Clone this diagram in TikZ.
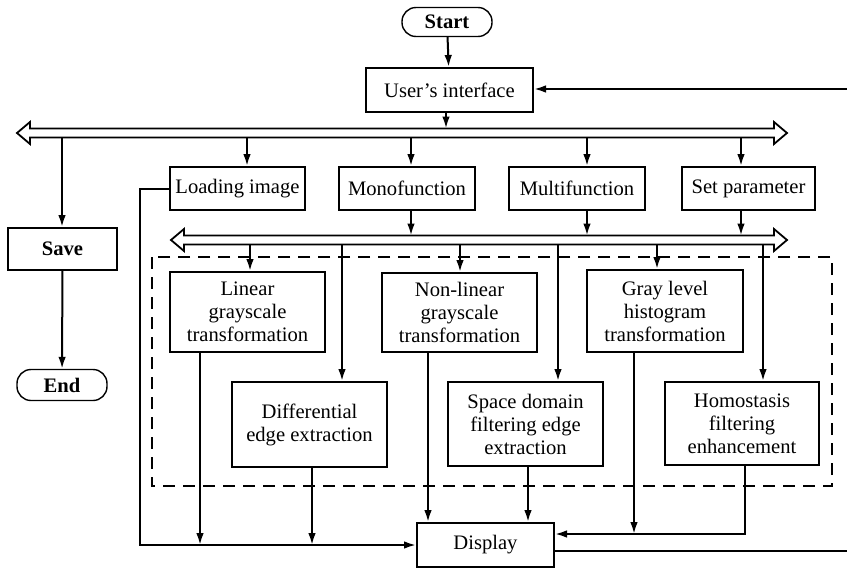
\documentclass[tikz,border=0pt]{standalone}
\usepackage{fontspec}
\setmainfont{Liberation Serif}
\usetikzlibrary{arrows.meta,calc}
\begin{document}
\begin{tikzpicture}[x=0.5pt,y=-0.5pt,
  box/.style={draw,line width=1pt,rectangle,inner sep=0pt,align=center,font=\fontsize{10.3}{11.5}\selectfont},
  term/.style={draw,line width=0.7pt,rounded corners=7pt,inner sep=0pt,font=\bfseries\fontsize{10.3}{11.5}\selectfont},
  arr/.style={line width=1pt,-{Latex[length=6pt,width=3.8pt]}},
  ln/.style={line width=1pt},
  bus/.style={line width=0.9pt,line join=miter},
  dashbox/.style={line width=1pt,dash pattern=on 6pt off 4pt}]
\useasboundingbox (0,0) rectangle (847,568);

% nodes
\node[term,minimum width=45pt,minimum height=14.5pt] (start) at (447,22) {Start};
\node[box,minimum width=83.5pt,minimum height=22pt] (ui) at (449.5,90) {User’s interface};
\node[box,font=\bfseries\fontsize{10.3}{11.5}\selectfont,minimum width=54.5pt,minimum height=21pt] (save) at (62.5,249) {Save};
\node[term,minimum width=45pt,minimum height=15.5pt] (end) at (62,385) {End};
\node[box,minimum width=67.5pt,minimum height=21.5pt] (load) at (237.5,188.5) {Loading image};
\node[box,minimum width=68pt,minimum height=21.5pt] (mono) at (407,188.5) {Monofunction};
\node[box,minimum width=68pt,minimum height=21.5pt] (multi) at (577,188.5) {Multifunction};
\node[box,minimum width=66.5pt,minimum height=21.5pt] (setp) at (748.5,188.5) {Set parameter};
\node[box,minimum width=77.5pt,minimum height=40pt] (lin) at (247.5,312) {Linear\\grayscale\\transformation};
\node[box,minimum width=77.5pt,minimum height=39.5pt] (nonlin) at (459.5,312.5) {Non-linear\\grayscale\\transformation};
\node[box,minimum width=78pt,minimum height=41pt] (gray) at (665,311) {Gray level\\histogram\\transformation};
\node[box,minimum width=77.5pt,minimum height=42.5pt] (diff) at (309.5,424.5) {Differential\\edge extraction};
\node[box,minimum width=77.5pt,minimum height=42pt] (space) at (525.5,424) {Space domain\\filtering edge\\extraction};
\node[box,minimum width=77pt,minimum height=41.5pt] (homo) at (742,423.5) {Homostasis\\filtering\\enhancement};
\node[box,minimum width=68.5pt,minimum height=22pt] (disp) at (485.5,545) {Display};

% dashed group
\draw[dashbox] (152,257) rectangle (832,486);

% buses (hollow double-headed arrows)
\draw[bus] (17,133) -- (30,122) -- (30,128.5) -- (774,128.5) -- (774,122) -- (787,133)
  -- (774,144) -- (774,137.5) -- (30,137.5) -- (30,144) -- cycle;
\draw[bus] (171,240) -- (184,229) -- (184,235.5) -- (774,235.5) -- (774,229) -- (787,240)
  -- (774,251) -- (774,244.5) -- (184,244.5) -- (184,251) -- cycle;

% bus tap points
\coordinate (b1in) at (446,128.5);
\coordinate (t1s) at (62,137.5);
\coordinate (t1l) at (247,137.5);
\coordinate (t1m) at (411,137.5);
\coordinate (t1u) at (587,137.5);
\coordinate (t1p) at (741,137.5);
\coordinate (b2m) at (411,235.5);
\coordinate (b2u) at (587,235.5);
\coordinate (b2p) at (741,235.5);
\coordinate (t2lin) at (250,244.5);
\coordinate (t2diff) at (342,244.5);
\coordinate (t2non) at (460,244.5);
\coordinate (t2space) at (558,244.5);
\coordinate (t2gray) at (657,244.5);
\coordinate (t2homo) at (763,244.5);

% top part
\draw[arr] (start) -- (ui);
\draw[arr] (ui.south -| b1in) -- (b1in);
\draw[arr] (t1s) -- (t1s |- save.north);
\draw[arr] (save) -- (end);
\draw[arr] (t1l) -- (t1l |- load.north);
\draw[arr] (t1m) -- (t1m |- mono.north);
\draw[arr] (t1u) -- (t1u |- multi.north);
\draw[arr] (t1p) -- (t1p |- setp.north);
\draw[arr] (mono.south -| b2m) -- (b2m);
\draw[arr] (multi.south -| b2u) -- (b2u);
\draw[arr] (setp.south -| b2p) -- (b2p);

% into processing boxes
\draw[arr] (t2lin) -- (t2lin |- lin.north);
\draw[arr] (t2diff) -- (t2diff |- diff.north);
\draw[arr] (t2non) -- (t2non |- nonlin.north);
\draw[arr] (t2space) -- (t2space |- space.north);
\draw[arr] (t2gray) -- (t2gray |- gray.north);
\draw[arr] (t2homo) -- (t2homo |- homo.north);

% outputs to display
\coordinate (lp) at (140,545);
\coordinate (lo) at (200,545);
\coordinate (do) at (312,545);
\coordinate (no) at (428,0);
\coordinate (so) at (528,0);
\coordinate (go) at (634,534);
\coordinate (hr) at (745,534);
\draw[arr] (load.west) -- (load.west -| lp) -- (lp) -- (lp -| disp.west);
\draw[arr] (lo |- lin.south) -- (lo);
\draw[arr] (do |- diff.south) -- (do);
\draw[arr] (no |- nonlin.south) -- (no |- disp.north);
\draw[arr] (so |- space.south) -- (so |- disp.north);
\draw[arr] (go |- gray.south) -- (go);
\draw[arr] (hr |- homo.south) -- (hr) -- (hr -| disp.east);

% feedback lines at right edge
\coordinate (fb) at (847,89);
\coordinate (dout) at (847,551);
\draw[arr] (fb) -- (fb -| ui.east);
\draw[ln] (dout -| disp.east) -- (dout);
\end{tikzpicture}
\end{document}
